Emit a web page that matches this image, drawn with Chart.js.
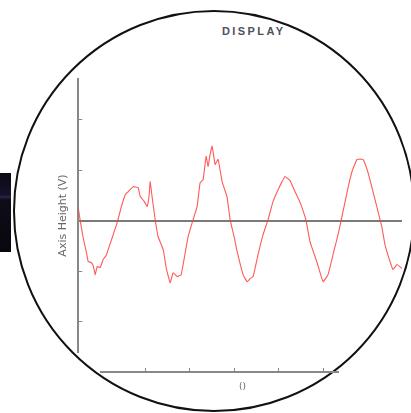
<!DOCTYPE html>
<html>
<head>
<meta charset="utf-8">
<script src="https://cdn.jsdelivr.net/npm/chart.js@4.4.1/dist/chart.umd.min.js"></script>
<style>
  html, body { margin: 0; padding: 0; background: #fff; }
  body { width: 411px; height: 413px; position: relative; overflow: hidden; }
  #lens { position: absolute; left: 13px; top: 10px; width: 402px; height: 402px;
          box-sizing: border-box; border: 2px solid #111; border-radius: 50%; }
  #tab { position: absolute; left: 0; top: 173px; width: 11px; height: 79px;
         background: linear-gradient(#0b0a14 0%, #14122a 28%, #2a2840 30%, #0d0c18 34%, #08080f 100%); }
  #titre { position: absolute; left: 222px; top: 25px; font: bold 11px "Liberation Sans", Arial, sans-serif;
           letter-spacing: 2.4px; color: #50505a; }
  #main { position: absolute; left: 0; top: 0; }
  #bas { position: absolute; left: 92px; top: 340px; }
</style>
</head>
<body>
<div id="lens"></div>
<div id="tab"></div>
<div id="titre">DISPLAY</div>
<canvas id="main" width="411" height="413"></canvas>
<canvas id="bas" width="300" height="63"></canvas>
<script>
// Dados (amostra, tensão)
const amostras = [0, 2, 5, 8, 10, 13, 15, 17, 19, 22, 25, 28, 30, 34, 39, 43, 47, 50, 55, 60,
  62, 66, 69, 71, 72, 74, 77, 80, 85, 88, 92, 95, 99, 103, 105, 110, 115, 119, 122, 125,
  128, 130, 132, 134, 137, 140, 144, 149, 152, 156, 159, 165, 169, 172, 175, 180, 185, 190, 195, 200,
  204, 207, 212, 217, 222, 228, 232, 239, 245, 250, 255, 260, 265, 270, 274, 279, 285, 290, 295, 300,
  304, 307, 312, 315, 319, 324];
const tensao = [0.26, 0, -0.34, -0.61, -0.81, -0.83, -0.89, -1.07, -0.91, -0.93, -0.77, -0.69, -0.57, -0.34, -0.04, 0.26, 0.51, 0.57, 0.67, 0.65,
  0.48, 0.38, 0.28, 0.50, 0.77, 0.46, 0.02, -0.32, -0.57, -0.93, -1.23, -1.03, -1.11, -1.07, -0.87, -0.32, 0.02, 0.28, 0.75, 0.81,
  1.27, 1.07, 1.31, 1.47, 1.11, 1.21, 0.77, 0.46, 0.02, -0.32, -0.61, -1.07, -1.21, -1.15, -1.11, -0.67, -0.28, 0.02, 0.38, 0.61,
  0.77, 0.87, 0.79, 0.57, 0.36, 0, -0.42, -0.83, -1.21, -1.07, -0.67, -0.28, 0.18, 0.65, 0.97, 1.21, 1.21, 0.95, 0.57, 0.18,
  -0.14, -0.48, -0.81, -0.97, -0.87, -0.95];
const ticksY = [-2, -1, 0, 1, 2];
const ticksX = [1, 2, 3, 4, 5];
const tituloY = "Axis Height (V)";
const tituloX = "()";

const cinza = "#888";

// Gráfico principal
new Chart(document.getElementById("main"), {
  type: "line",
  data: {
    datasets: [{
      data: amostras.map((t, i) => ({ x: t, y: tensao[i] })),
      borderColor: "rgba(255, 60, 60, 0.85)",
      borderWidth: 1.1,
      pointRadius: 0,
      tension: 0.1
    }]
  },
  options: {
    responsive: false,
    animation: false,
    layout: { padding: { left: 57, top: 79, right: 9, bottom: 61 } },
    plugins: { legend: { display: false }, tooltip: { enabled: false } },
    scales: {
      x: { type: "linear", min: 0, max: 324, display: false },
      y: {
        min: -2.6, max: 2.8,
        afterBuildTicks: s => { s.ticks = ticksY.map(v => ({ value: v })); },
        ticks: { display: false },
        border: { color: cinza, width: 2 },
        grid: {
          tickLength: -4,
          tickColor: cinza,
          tickWidth: 1,
          color: c => (c.tick && c.tick.value === 0 ? "#7a7a7a" : "rgba(0,0,0,0)"),
          lineWidth: c => (c.tick && c.tick.value === 0 ? 2 : 1)
        },
        title: {
          display: true, text: tituloY, color: "#666",
          font: { family: "DejaVu Sans", size: 11 },
          padding: { top: 0, bottom: 12 }
        }
      }
    }
  }
});

// Rótulo do eixo inferior, posto pela escala
const rotuloX = {
  id: "rotuloX",
  afterDraw(chart) {
    const x = chart.scales.x.getPixelForValue(3.18);
    const ctx = chart.ctx;
    ctx.save();
    ctx.font = "9px 'DejaVu Sans'";
    ctx.fillStyle = "#667";
    ctx.textAlign = "center";
    ctx.textBaseline = "middle";
    ctx.fillText(tituloX, x, chart.chartArea.bottom + 15);
    ctx.restore();
  }
};

// Eixo inferior
new Chart(document.getElementById("bas"), {
  type: "line",
  data: { datasets: [{ data: [] }] },
  plugins: [rotuloX],
  options: {
    responsive: false,
    animation: false,
    layout: { padding: { left: 9, right: 54, top: 28, bottom: 31 } },
    plugins: { legend: { display: false }, tooltip: { enabled: false } },
    scales: {
      x: {
        type: "linear", min: 0, max: 5.33,
        afterBuildTicks: s => { s.ticks = ticksX.map(v => ({ value: v })); },
        ticks: { display: false },
        border: { color: cinza, width: 2 },
        grid: { color: cinza, lineWidth: 1, drawTicks: false }
      },
      y: { display: false, min: 0, max: 1 }
    }
  }
});
</script>
</body>
</html>
